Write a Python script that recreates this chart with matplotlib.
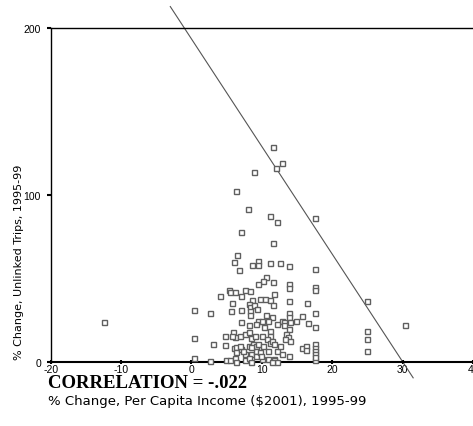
import matplotlib
matplotlib.use('Agg')
import matplotlib.pyplot as plt
import numpy as np

# % change in per capita income ($2001), 1995-99
income_change = [
    11.6, 12.8, 12.0, 8.9, 6.4, 8.0, 11.1, 17.5, 12.2, 7.0,
    11.6, 6.5, 6.0, 6.7, 8.6, 9.4, 9.4, 11.1, 12.6, 13.9,
    17.5, 10.6, 10.1, 9.5, 11.6, 13.8, 13.8, 17.5, 17.5, 5.4,
    5.5, 6.2, 7.6, 8.3, 4.0, 5.7, 7.0, 8.6, 9.8, 10.4,
    11.1, 11.8, 8.2, 8.3, 8.9, 11.6, 13.8, 16.4, 15.7, 16.6,
    17.5, 17.5, 24.9, 24.9, 24.9, 24.9, 30.3, 15.7, 16.3, 16.3,
    17.5, 17.5, 17.5, 17.5, 17.5, 17.5, 0.4, 2.7, 5.6, 7.0,
    8.3, 8.3, 9.3, 10.6, 11.5, 13.8, 13.8, 14.8, 12.9, 10.9,
    9.4, 7.0, 8.2, 12.1, 13.2, 13.2, 14.0, 13.8, 10.3, 11.1,
    11.1, -12.4, 0.3, 3.1, 4.8, 4.8, 5.9, 6.2, 6.9, 7.6,
    8.2, 8.4, 9.0, 10.0, 6.0, 6.4, 6.4, 7.1, 7.6, 7.3,
    8.2, 8.4, 8.8, 9.2, 9.2, 9.2, 9.7, 9.5, 10.2, 10.7,
    10.9, 11.1, 11.4, 11.8, 12.1, 12.6, 12.8, 13.5, 13.7, 13.3,
    13.8, 0.3, 2.6, 4.9, 5.5, 6.2, 6.4, 7.6, 8.2, 8.4,
    10.0, 9.9, 10.9, 11.7, 11.8, 12.2, 11.4, 5.8, 9.2, 10.0,
    6.9, 14.0, 8.4,
]
# % change in unlinked trips, 1995-99
trips_change = [
    128.9, 118.8, 115.9, 113.8, 102.3, 91.5, 87.3, 86.0, 83.8, 77.9,
    71.2, 64.1, 59.5, 55.2, 58.1, 60.1, 57.7, 59.4, 58.9, 57.3,
    55.6, 50.8, 48.6, 46.7, 48.0, 46.6, 43.9, 45.0, 42.8, 43.0,
    41.9, 41.6, 43.0, 42.1, 39.3, 35.4, 39.4, 37.2, 37.6, 37.6,
    37.0, 40.8, 34.4, 32.8, 34.2, 34.0, 36.4, 35.4, 27.6, 23.0,
    29.2, 20.7, 36.4, 18.4, 13.6, 6.2, 22.2, 8.2, 9.4, 7.2,
    10.4, 8.4, 6.4, 4.4, 0.8, 2.8, 30.8, 29.4, 30.2, 30.8,
    30.6, 27.8, 31.6, 28.0, 26.8, 28.9, 26.6, 24.6, 24.6, 24.6,
    24.6, 23.8, 22.0, 22.5, 23.8, 21.7, 23.6, 19.6, 21.0, 18.6,
    15.6, 23.8, 14.2, 10.6, 15.1, 9.8, 17.6, 14.8, 15.4, 16.6,
    17.6, 14.2, 15.6, 15.6, 8.0, 8.6, 5.6, 7.6, 4.6, 6.6,
    9.6, 4.6, 10.6, 9.6, 6.6, 3.6, 5.6, 10.6, 9.6, 13.6,
    6.6, 11.2, 12.6, 10.6, 6.6, 9.6, 4.6, 16.6, 14.6, 13.6,
    3.6, 2.0, 0.2, 1.0, 1.0, 2.2, 0.0, 1.0, 2.0, 0.0,
    1.6, 3.6, 1.6, 1.6, 1.0, 0.0, 0.0, 15.2, 22.6, 24.6,
    9.6, 12.6, 8.6,
]

# reference line drawn on the chart
line_intercept = 193.5
line_slope = -6.45
line_x_range = [-3.0, 31.5]

x_ticks = [-20, -10, 0, 10, 20, 30, 40]
y_ticks = [0, 100, 200]
correlation_text = 'CORRELATION = -.022'

plt.rcParams['font.family'] = ['Liberation Sans', 'DejaVu Sans']

fig = plt.figure(figsize=(4.73, 4.27), dpi=100)
ax = fig.add_axes([0.107, 0.1506, 0.893, 0.7815])

lx = np.array(line_x_range)
ax.plot(lx, line_intercept + line_slope * lx, color='#555555', lw=0.8,
        clip_on=False, zorder=2)
ax.plot(income_change, trips_change, linestyle='none', marker='s',
        markersize=3.6, markerfacecolor='white', markeredgecolor='#5f5f5f',
        markeredgewidth=1.0, clip_on=False, zorder=3)

ax.set_xlim(-20, 40)
ax.set_ylim(0, 200)
ax.set_xticks(x_ticks)
ax.set_yticks(y_ticks)
ax.set_xticklabels([str(t) for t in x_ticks], fontsize=7.5)
ax.set_yticklabels([str(t) for t in y_ticks], fontsize=7.5)
ax.tick_params(axis='x', direction='inout', length=3, width=1.5, pad=0)
ax.tick_params(axis='y', direction='out', length=3, width=1.5, pad=4)

for side in ['left', 'bottom', 'top']:
    ax.spines[side].set_color('black')
    ax.spines[side].set_linewidth(1.0)
ax.spines['right'].set_visible(False)
ax.spines['bottom'].set_linewidth(1.5)

fig.text(0.04, 0.385, '% Change, Unlinked Trips, 1995-99', rotation=90,
         ha='center', va='center', fontsize=8, family='DejaVu Sans')
fig.text(0.101, 0.103, correlation_text, fontsize=13.5, fontweight='bold',
         family=['Liberation Serif', 'DejaVu Serif'], ha='left', va='center')
fig.text(0.101, 0.06, '% Change, Per Capita Income ($2001), 1995-99',
         fontsize=9.5, ha='left', va='center', family='DejaVu Sans')

fig.savefig('out.png', dpi=100)
